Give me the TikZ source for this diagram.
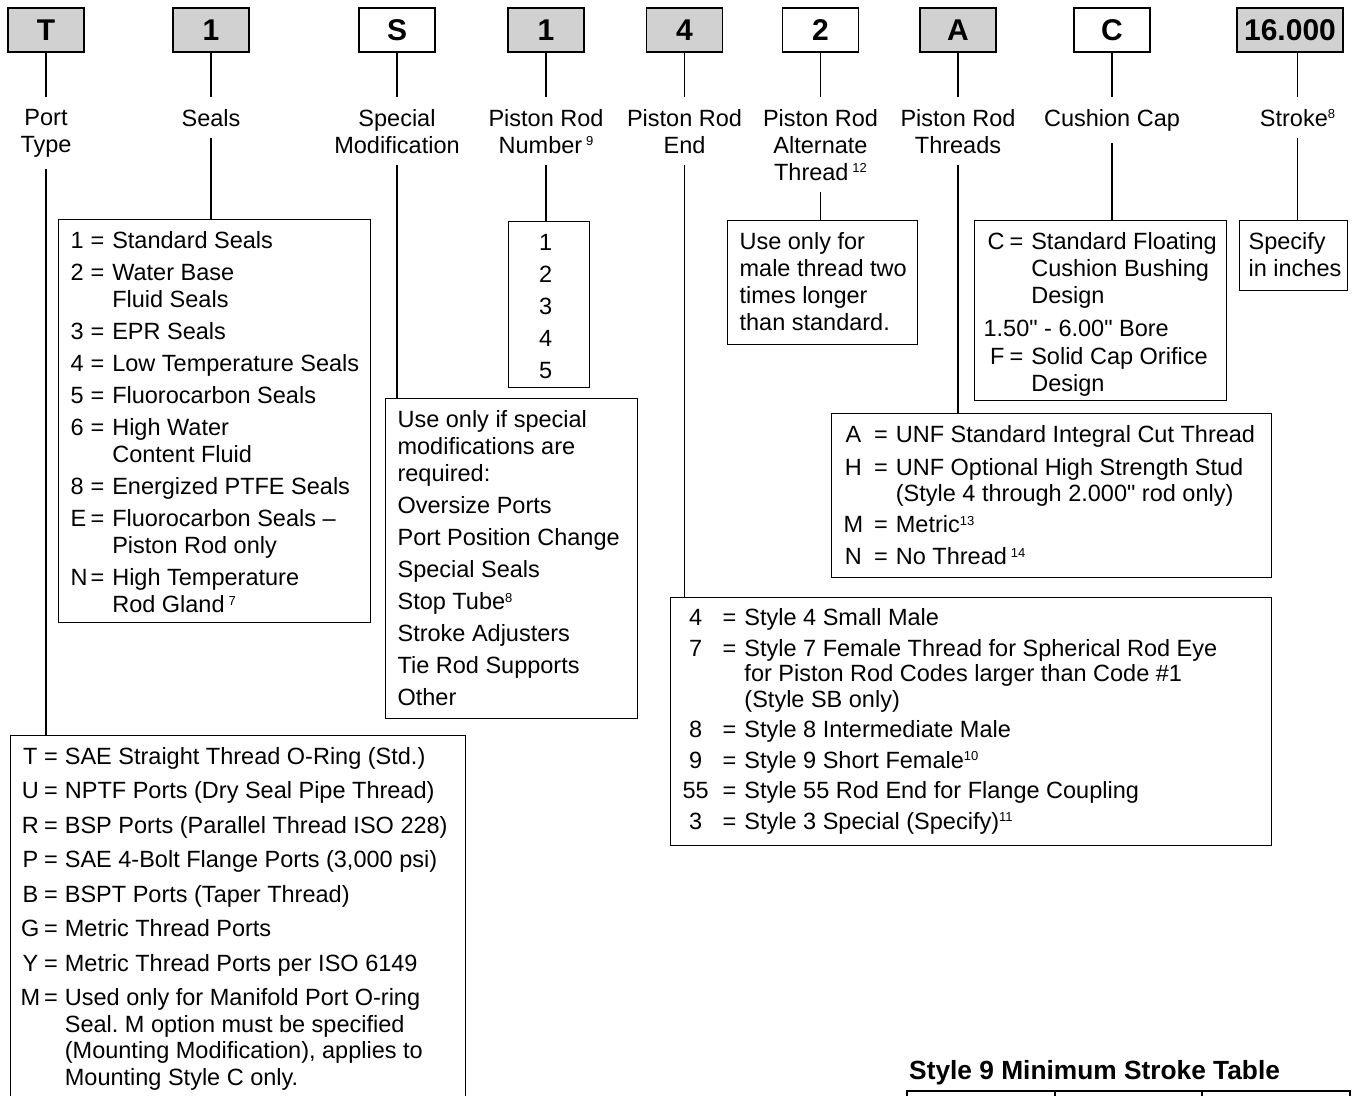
\documentclass[tikz,border=0pt]{standalone}
\usepackage{fontspec}
\setmainfont{Liberation Sans}
\usetikzlibrary{positioning}
\setlength{\parindent}{0pt}
\frenchspacing
\newcommand{\fnote}[1]{\smash{\raisebox{7.5pt}{\fontsize{13}{13}\selectfont #1}}}
\newcommand{\inch}{\XeTeXglyph\XeTeXcharglyph"22\relax}

\begin{document}
\begin{tikzpicture}
		[x=1pt,y=-1pt,
		field/.style={rectangle,draw=black,fill=black!18,line width=1.6pt,inner sep=0pt,minimum width=76pt,minimum height=44pt,font=\fontsize{30}{30}\selectfont\bfseries},
		fieldw/.style={field,fill=white},
		heading/.style={inner xsep=0pt,inner ysep=12pt,align=center,font=\fontsize{23.5}{27}\selectfont},
		choices/.style={rectangle,draw=black,line width=1.2pt,anchor=north west,inner xsep=12pt,inner ysep=10pt,font=\fontsize{23.5}{27}\selectfont},
		wire/.style={line width=1.8pt}]
		\useasboundingbox (0,0) rectangle (1354,1095);

		% order code fields
		\node [field] (c1) at (46,30) {T};
		\node [field] (c2) at (211,30) {1};
		\node [fieldw] (c3) at (397,30) {S};
		\node [field] (c4) at (546,30) {1};
		\node [field] (c5) at (684.5,30) {4};
		\node [fieldw] (c6) at (820.5,30) {2};
		\node [field] (c7) at (958,30) {A};
		\node [fieldw] (c8) at (1112,30) {C};
		\node [field,minimum width=106pt] (c9) at (1290,30) {16.000};

		% headings
		\node [heading] (l1) [below=44pt of c1] {Port\\Type};
		\node [heading] (l2) [below=44pt of c2] {Seals};
		\node [heading] (l3) [below=44pt of c3] {Special\\Modification};
		\node [heading] (l4) [below=44pt of c4] {Piston Rod\\Number\,\fnote{9}};
		\node [heading] (l5) [below=44pt of c5] {Piston Rod\\End};
		\node [heading] (l6) [below=44pt of c6] {Piston Rod\\Alternate\\Thread\,\fnote{12}};
		\node [heading] (l7) [below=44pt of c7] {Piston Rod\\Threads};
		\node [heading] (l8) [below=44pt of c8] {Cushion Cap};
		\node [heading] (l9) [below=44pt of c9,xshift=7.5pt] {Stroke\fnote{8}};

		% option boxes
		\node [choices,inner xsep=10pt,font=\fontsize{23.5}{26.5}\selectfont] (b1) at (10,735) {\parbox[t][380pt][t]{435pt}{%
			\begin{tabular}{@{}c@{\hspace{4pt}}c@{\hspace{7pt}}l@{}}
			T&=&SAE Straight Thread O-Ring (Std.)\\[8pt]
			U&=&NPTF Ports (Dry Seal Pipe Thread)\\[8pt]
			R&=&BSP Ports (Parallel Thread ISO 228)\\[8pt]
			P&=&SAE 4-Bolt Flange Ports (3,000 psi)\\[8pt]
			B&=&BSPT Ports (Taper Thread)\\[8pt]
			G&=&Metric Thread Ports\\[8pt]
			Y&=&Metric Thread Ports per ISO 6149\\[8pt]
			M&=&Used only for Manifold Port O-ring\\
			&&Seal. M option must be specified\\
			&&(Mounting Modification), applies to\\
			&&Mounting Style C only.
			\end{tabular}}};
		\node [choices] (b2) at (58,219) {\parbox[t][383pt][t]{288pt}{%
			\begin{tabular}{@{}l@{\hspace{3pt}}c@{\hspace{8pt}}l@{}}
			1&=&Standard Seals\\[5pt]
			2&=&Water Base\\
			&&Fluid Seals\\[5pt]
			3&=&EPR Seals\\[5pt]
			4&=&Low Temperature Seals\\[5pt]
			5&=&Fluorocarbon Seals\\[5pt]
			6&=&High Water\\
			&&Content Fluid\\[5pt]
			8&=&Energized PTFE Seals\\[5pt]
			E&=&Fluorocarbon Seals --\\
			&&Piston Rod only\\[5pt]
			N&=&High Temperature\\
			&&Rod Gland\,\fnote{7}
			\end{tabular}}};
		\node [choices] (b3) at (385,398) {\parbox[t][300pt][t]{228pt}{%
			\begin{tabular}{@{}l@{}}
			Use only if special\\
			modifications are\\
			required:\\[5pt]
			Oversize Ports\\[5pt]
			Port Position Change\\[5pt]
			Special Seals\\[5pt]
			Stop Tube\fnote{8}\\[5pt]
			Stroke Adjusters\\[5pt]
			Tie Rod Supports\\[5pt]
			Other
			\end{tabular}}};
		\node [choices] (b4) at (508,221) {\parbox[t][146pt][t]{57pt}{\centering
			\begin{tabular}{@{}c@{\hspace{7pt}}}
			1\\[5pt]2\\[5pt]3\\[5pt]4\\[5pt]5
			\end{tabular}}};
		\node [choices,font=\fontsize{23.5}{25.5}\selectfont] (b5) at (670,597) {\parbox[t][228pt][t]{577pt}{%
			\begin{tabular}{@{}c@{\hspace{14pt}}c@{\hspace{8pt}}l@{}}
			4&=&Style 4 Small Male\\[5.5pt]
			7&=&Style 7 Female Thread for Spherical Rod Eye\\[-0.5pt]
			&&for Piston Rod Codes larger than Code \#1\\[0.5pt]
			&&(Style SB only)\\[4.5pt]
			8&=&Style 8 Intermediate Male\\[5.5pt]
			9&=&Style 9 Short Female\fnote{10}\\[4.5pt]
			55&=&Style 55 Rod End for Flange Coupling\\[5.5pt]
			3&=&Style 3 Special (Specify)\fnote{11}
			\end{tabular}}};
		\node [choices] (b6) at (727,220) {\parbox[t][104pt][t]{166pt}{%
			\begin{tabular}{@{}l@{}}
			Use only for\\
			male thread two\\
			times longer\\
			than standard.
			\end{tabular}}};
		\node [choices] (b7) at (831,413) {\parbox[t][144pt][t]{416pt}{%
			\begin{tabular}{@{}c@{\hspace{11pt}}c@{\hspace{8pt}}l@{}}
			A&=&UNF Standard Integral Cut Thread\\[6pt]
			H&=&UNF Optional High Strength Stud\\[-1pt]
			&&(Style 4 through 2.000\inch{} rod only)\\[4pt]
			M&=&Metric\fnote{13}\\[5pt]
			N&=&No Thread\,\fnote{14}
			\end{tabular}}};
		\node [choices,inner xsep=9pt] (b8) at (974,220) {\parbox[t][160pt][t]{234pt}{%
			\begin{tabular}{@{\hspace{4pt}}r@{\hspace{5pt}}c@{\hspace{8pt}}l@{}}
			C&=&Standard Floating\\
			&&Cushion Bushing\\
			&&Design\\[6pt]
			\multicolumn{3}{@{}l}{1.50\inch{} - 6.00\inch{} Bore}\\[1pt]
			F&=&Solid Cap Orifice\\
			&&Design
			\end{tabular}}};
		\node [choices,inner xsep=9pt] (b9) at (1239,220) {\parbox[t][50pt][t]{90pt}{%
			\begin{tabular}{@{}l@{}}
			Specify\\
			in inches
			\end{tabular}}};

		% connectors
		\foreach \i in {1,...,9}
			\draw [wire] (l\i |- c\i.south) -- (l\i);
		\foreach \i in {1,...,9}
			\draw [wire] (l\i) -- (l\i |- b\i.north);

		% table below
		\node [anchor=base west,inner sep=0pt,font=\fontsize{26.3}{26}\selectfont\bfseries] (tbl) at (909,1079) {Style 9 Minimum Stroke Table};
		\draw [line width=1.2pt] (907,1100) |- (1350,1091) -- (1350,1100);
		\foreach \x in {1055,1202}
			\draw [line width=1.2pt] (\x,1091) -- (\x,1100);

	\end{tikzpicture}
\end{document}
